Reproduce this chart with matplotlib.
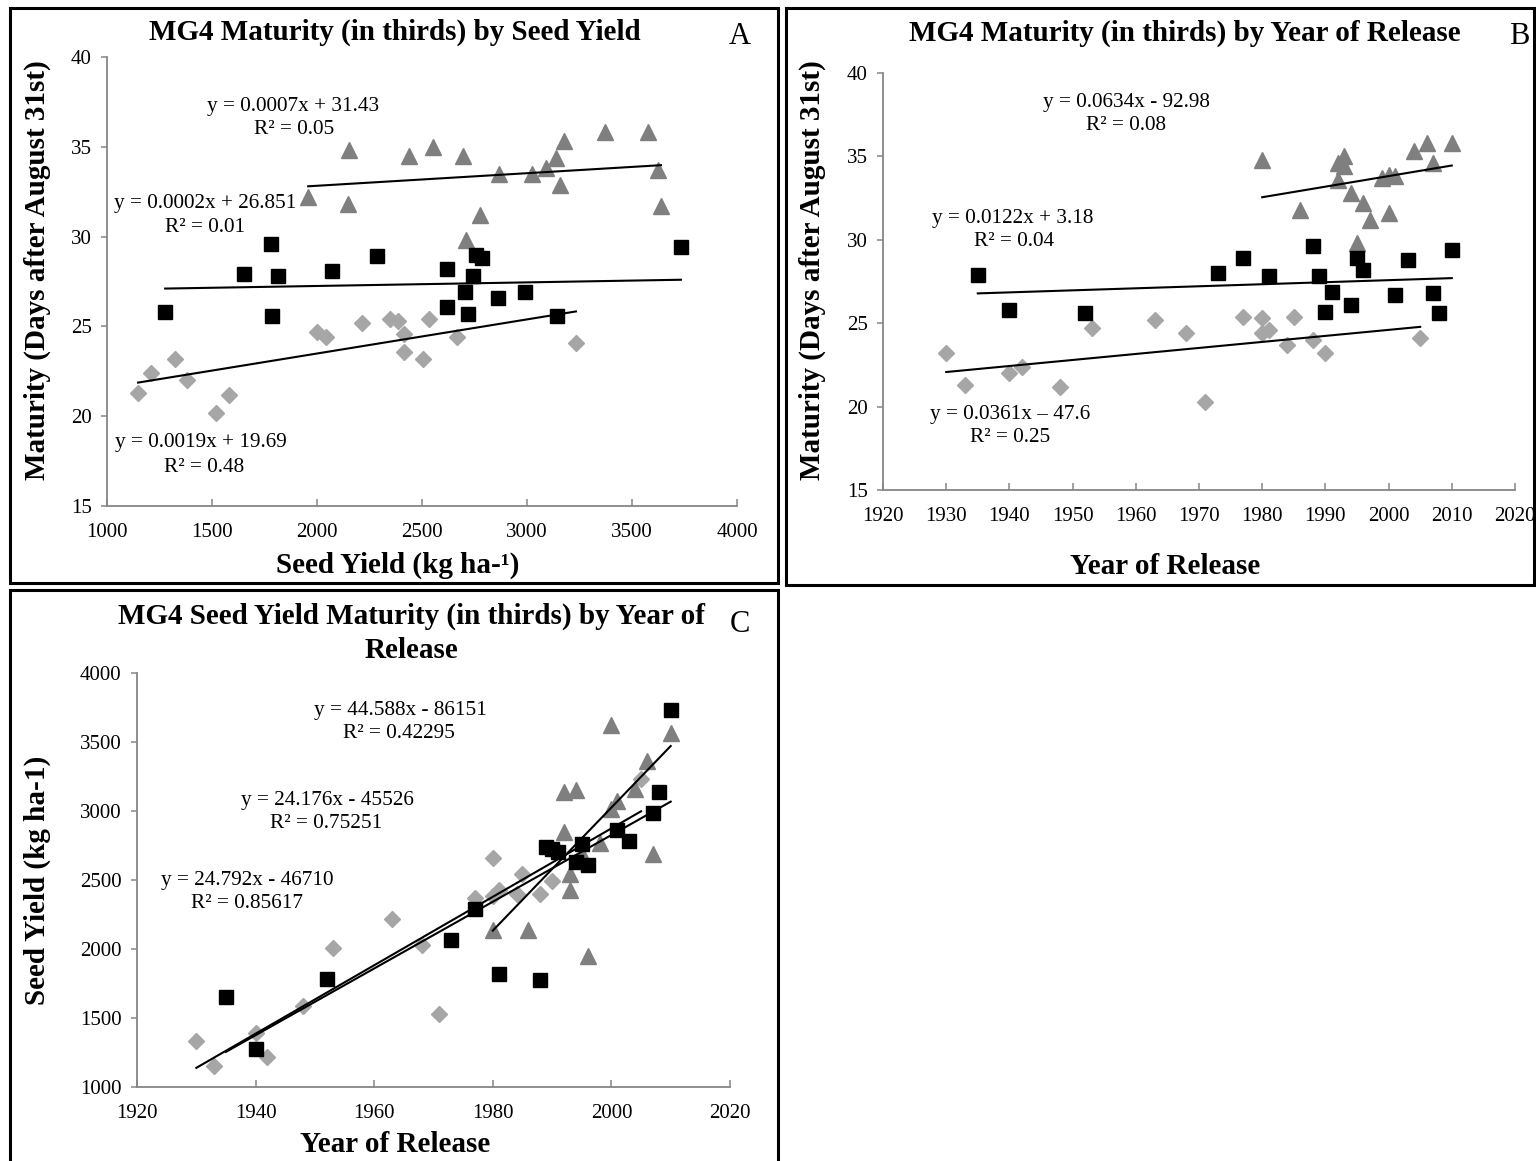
import matplotlib
matplotlib.use("Agg")
import matplotlib.pyplot as plt
from matplotlib.patches import Rectangle
import numpy as np

plt.rcParams['font.family'] = ['Liberation Serif', 'DejaVu Serif']

W, H = 1536, 1161

# ---- panel A: maturity by seed yield ----
a_tri_x = [1958, 2150, 2146, 2437, 2551, 2694, 2709, 2778, 2867, 3025, 3091, 3138, 3158, 3174, 3371, 3575, 3622, 3638]
a_tri_y = [32.2, 34.8, 31.8, 34.5, 35.0, 34.5, 29.8, 31.2, 33.5, 33.5, 33.8, 34.4, 32.9, 35.3, 35.8, 35.8, 33.7, 31.7]
a_sq_x = [1277, 1652, 1780, 1816, 1784, 2073, 2285, 2617, 2621, 2704, 2719, 2743, 2755, 2788, 2862, 2990, 3144, 3733]
a_sq_y = [25.8, 27.9, 29.6, 27.8, 25.6, 28.1, 28.9, 28.2, 26.1, 26.9, 25.7, 27.8, 29.0, 28.8, 26.6, 26.9, 25.6, 29.4]
a_dia_x = [1148, 1211, 1322, 1379, 1520, 1583, 2002, 2041, 2215, 2348, 2387, 2413, 2413, 2506, 2532, 2666, 3233]
a_dia_y = [21.3, 22.4, 23.2, 22.0, 20.2, 21.2, 24.7, 24.4, 25.2, 25.4, 25.3, 24.6, 23.6, 23.2, 25.4, 24.4, 24.1]
a_fits = [(0.0007, 31.43), (0.0002, 26.851), (0.0019, 19.69)]  # tri, sq, dia
a_eqs = ["y = 0.0007x + 31.43", "y = 0.0002x + 26.851", "y = 0.0019x + 19.69"]
a_r2 = ["R² = 0.05", "R² = 0.01", "R² = 0.48"]

# ---- panel B: maturity by year of release ----
b_tri_x = [1980, 1986, 1992, 1992, 1993, 1993, 1994, 1995, 1996, 1997, 1999, 2000, 2001, 2000, 2004, 2006, 2007, 2010]
b_tri_y = [34.8, 31.8, 33.6, 34.6, 35.0, 34.4, 32.8, 29.8, 32.2, 31.2, 33.7, 33.9, 33.8, 31.6, 35.3, 35.8, 34.6, 35.8]
b_sq_x = [1935, 1940, 1952, 1973, 1977, 1981, 1988, 1989, 1990, 1991, 1994, 1995, 1996, 2001, 2003, 2007, 2008, 2010]
b_sq_y = [27.9, 25.8, 25.6, 28.0, 28.9, 27.8, 29.6, 27.8, 25.7, 26.9, 26.1, 28.9, 28.2, 26.7, 28.8, 26.8, 25.6, 29.4]
b_dia_x = [1930, 1933, 1940, 1942, 1948, 1953, 1963, 1968, 1971, 1977, 1980, 1980, 1981, 1984, 1985, 1988, 1990, 2005]
b_dia_y = [23.2, 21.3, 22.0, 22.4, 21.2, 24.7, 25.2, 24.4, 20.3, 25.4, 25.3, 24.4, 24.6, 23.7, 25.4, 24.0, 23.2, 24.1]
b_fits = [(0.0634, -92.98), (0.0122, 3.18), (0.0361, -47.6)]
b_eqs = ["y = 0.0634x - 92.98", "y = 0.0122x + 3.18", "y = 0.0361x – 47.6"]
b_r2 = ["R² = 0.08", "R² = 0.04", "R² = 0.25"]

# ---- panel C: seed yield by year of release ----
c_tri_x = [1980, 1986, 1992, 1992, 1993, 1993, 1994, 1995, 1996, 1998, 2000, 2000, 2001, 2004, 2006, 2007, 2010]
c_tri_y = [2137, 2137, 3137, 2851, 2542, 2427, 3149, 2687, 1952, 2771, 3622, 3012, 3072, 3157, 3361, 2692, 3566]
c_sq_x = [1935, 1940, 1952, 1973, 1977, 1981, 1988, 1989, 1990, 1991, 1994, 1995, 1996, 2001, 2003, 2007, 2008, 2010]
c_sq_y = [1651, 1277, 1783, 2065, 2289, 1819, 1776, 2742, 2723, 2706, 2627, 2764, 2610, 2863, 2783, 2983, 3140, 3735]
c_dia_x = [1930, 1933, 1940, 1942, 1948, 1953, 1963, 1968, 1971, 1977, 1980, 1980, 1981, 1984, 1985, 1988, 1990, 2005]
c_dia_y = [1332, 1149, 1390, 1217, 1590, 2007, 2217, 2031, 1530, 2369, 2663, 2386, 2427, 2398, 2547, 2402, 2494, 3229]
c_fits = [(44.588, -86151), (24.176, -45526), (24.792, -46710)]
c_eqs = ["y = 44.588x - 86151", "y = 24.176x - 45526", "y = 24.792x - 46710"]
c_r2 = ["R² = 0.42295", "R² = 0.75251", "R² = 0.85617"]

TRI_C = '#7f7f7f'
DIA_C = '#a6a6a6'
AX_C = '#868686'
TITLE_FS = 21
EQ_FS = 15.3
TICK_FS = 15


def fp(x, y):
    # pixel position -> figure fraction
    return x / W, 1 - y / H


def make_ax(box, xlim, xticks, ylim, yticks):
    l, t, r, b = box
    ax = fig.add_axes([l / W, 1 - b / H, (r - l) / W, (b - t) / H])
    ax.set_xlim(*xlim)
    ax.set_ylim(*ylim)
    ax.set_xticks(xticks)
    ax.set_yticks(yticks)
    for s in ['top', 'right']:
        ax.spines[s].set_visible(False)
    for s in ['left', 'bottom']:
        ax.spines[s].set_color(AX_C)
        ax.spines[s].set_linewidth(1.3)
    ax.tick_params(axis='y', direction='out', length=4, width=1.1, color=AX_C, pad=7, labelsize=TICK_FS)
    ax.tick_params(axis='x', direction='in', length=5, width=1.1, color=AX_C, pad=12, labelsize=TICK_FS)
    ax.patch.set_alpha(0)
    return ax


def draw_series(ax, tri, sq, dia, fits):
    ax.plot(dia[0], dia[1], 'D', ms=8.2, color=DIA_C, mec=DIA_C, zorder=3, clip_on=False)
    ax.plot(tri[0], tri[1], '^', ms=12, color=TRI_C, mec=TRI_C, zorder=4, clip_on=False)
    ax.plot(sq[0], sq[1], 's', ms=10.5, color='black', zorder=5, clip_on=False)
    for (xs, _), (m, c) in zip([tri, sq, dia], fits):
        xx = np.array([min(xs), max(xs)], dtype=float)
        ax.plot(xx, m * xx + c, color='black', lw=1.5, zorder=6)


def eq_text(pos_eq, pos_r2, eq, r2):
    fig.text(*fp(*pos_eq), eq, ha='center', va='center', fontsize=EQ_FS)
    fig.text(*fp(*pos_r2), r2, ha='center', va='center', fontsize=EQ_FS)


def bold(pos, s, rot=0):
    fig.text(*fp(*pos), s, ha='center', va='center', rotation=rot, fontsize=TITLE_FS, fontweight='bold')


fig = plt.figure(figsize=(W / 100, H / 100), dpi=100)

# panel frames
for (x0, y0, x1, y1) in [(10, 8, 778, 583), (786, 8, 1534, 585), (10, 590, 778, 1200)]:
    fig.add_artist(Rectangle(fp(x0, y1), (x1 - x0) / W, (y1 - y0) / H,
                             transform=fig.transFigure, fill=False, ec='black', lw=2.2))

# A
axA = make_ax((107, 57, 737, 506), (1000, 4000), np.arange(1000, 4001, 500), (15, 40), np.arange(15, 41, 5))
draw_series(axA, (a_tri_x, a_tri_y), (a_sq_x, a_sq_y), (a_dia_x, a_dia_y), a_fits)
bold((395, 32), "MG4 Maturity (in thirds) by Seed Yield")
fig.text(*fp(740, 37), "A", ha='center', va='center', fontsize=22)
bold((398, 565), "Seed Yield (kg ha-¹)")
bold((37, 270), "Maturity (Days after August 31st)", 90)
eq_text((293, 106), (294, 130), a_eqs[0], a_r2[0])
eq_text((205, 203), (205, 227), a_eqs[1], a_r2[1])
eq_text((201, 443), (204, 467), a_eqs[2], a_r2[2])

# B
axB = make_ax((883, 73, 1515, 490), (1920, 2020), np.arange(1920, 2021, 10), (15, 40), np.arange(15, 41, 5))
draw_series(axB, (b_tri_x, b_tri_y), (b_sq_x, b_sq_y), (b_dia_x, b_dia_y), b_fits)
bold((1185, 33), "MG4 Maturity (in thirds) by Year of Release")
fig.text(*fp(1519, 36), "B", ha='center', va='center', fontsize=22)
bold((1165, 566), "Year of Release")
bold((812, 270), "Maturity (Days after August 31st)", 90)
eq_text((1126, 103), (1126, 126), b_eqs[0], b_r2[0])
eq_text((1013, 218), (1014, 242), b_eqs[1], b_r2[1])
eq_text((1010, 414), (1010, 438), b_eqs[2], b_r2[2])

# C
axC = make_ax((137, 673, 730, 1087), (1920, 2020), np.arange(1920, 2021, 20), (1000, 4000), np.arange(1000, 4001, 500))
draw_series(axC, (c_tri_x, c_tri_y), (c_sq_x, c_sq_y), (c_dia_x, c_dia_y), c_fits)
bold((411, 616), "MG4 Seed Yield Maturity (in thirds) by Year of")
bold((411, 650), "Release")
fig.text(*fp(740, 625), "C", ha='center', va='center', fontsize=22)
bold((395, 1145), "Year of Release")
bold((37, 880), "Seed Yield (kg ha-1)", 90)
eq_text((400, 710), (399, 733), c_eqs[0], c_r2[0])
eq_text((327, 800), (326, 824), c_eqs[1], c_r2[1])
eq_text((247, 880), (247, 903), c_eqs[2], c_r2[2])

fig.savefig("out.png", dpi=100)
